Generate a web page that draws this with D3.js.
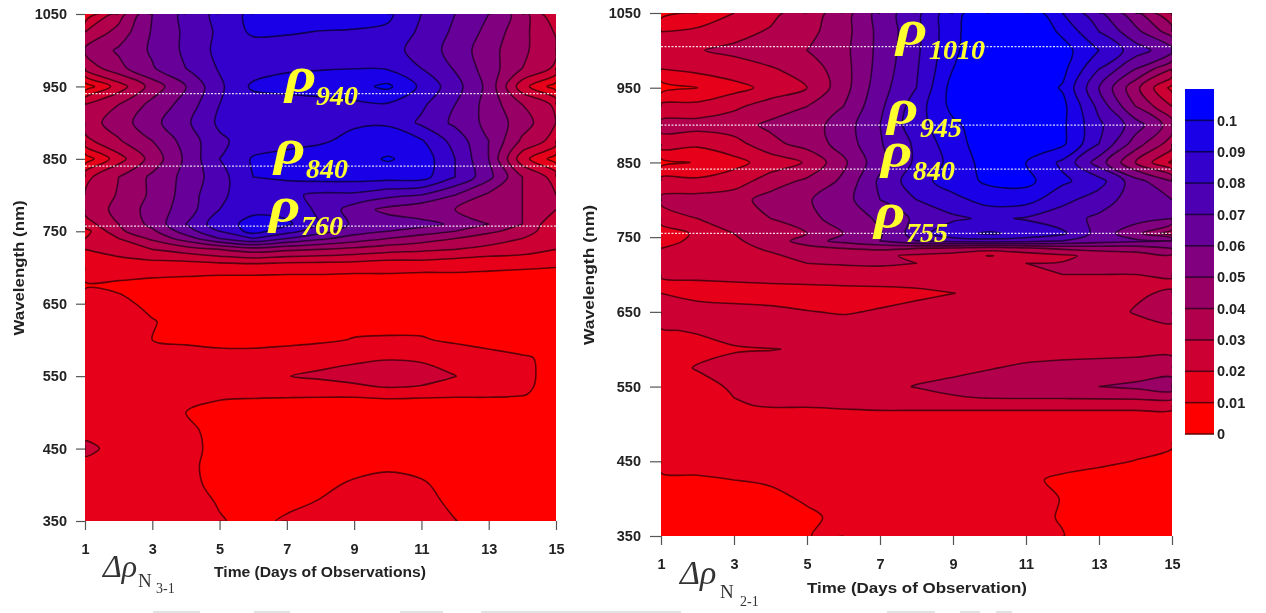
<!doctype html>
<html lang='en'>
<head>
    <meta charset='UTF-8'>
    <title>Contour charts</title>
    <style>
        body{ margin: 0; background: #fff; }
        svg{ display: block; filter: blur(0.6px); }
        .tick text, .lab{
            font-family: 'Liberation Sans', sans-serif;
            font-weight: bold;
            fill: #222;
        }
        .tick text{ font-size: 14.5px; }
        .lab{ font-size: 14.5px; }
        .axis path{ display: none; }
        .axis .tick line{ stroke: #555; stroke-width: 1.2px; }
        .iso{ fill: none; stroke: #000; stroke-opacity: 0.6; stroke-width: 1.6px; stroke-linejoin: round; }
        .ref{ stroke: #fff; stroke-width: 1.3px; stroke-dasharray: 2 1.5; opacity: 0.85; }
        .rho{ font-family: 'Liberation Serif', serif; font-style: italic; fill: #ffff2e; }
        .dl{ font-family: 'Liberation Serif', serif; fill: #333; }
    </style>
</head>
<body>
<script src='https://d3js.org/d3.v7.min.js'></script>
<script>
  // all grid values are in units of 0.01 reflectance difference
  const days = [1,2,3,4,5,6,7,8,9,10,11,12,13,14,15]
  const dayTicks = [1,3,5,7,9,11,13,15]
  const wlTicks = [350,450,550,650,750,850,950,1050]
  const levels = [0,1,2,3,4,5,6,7,8,9,10]
  const levelLabels = ['0','0.01','0.02','0.03','0.04','0.05','0.06','0.07','0.08','0.09','0.1']

  const wlLeft = [350,375,400,425,450,475,500,525,535,550,575,600,625,650,675,700,710,725,740,750,760,780,800,825,850,875,900,925,950,975,1000,1025,1050]
  const gridLeft = [
    [1.5,1.5,1.5,1.4,1.05,.8,1.1,1.2,1.3,1.4,1.4,1.02,.7,.6,.6],
    [1.5,1.5,1.45,1.3,.95,.75,.85,1.05,1.2,1.35,1.25,.85,.65,.55,.55],
    [1.5,1.5,1.4,1.1,.9,.7,.7,.85,1.1,1.25,1.1,.7,.6,.5,.5],
    [1.6,1.5,1.4,1.1,.85,.65,.65,.7,.8,.9,.8,.6,.5,.5,.5],
    [2.3,1.6,1.4,1.1,.9,.6,.6,.6,.6,.6,.6,.5,.5,.5,.5],
    [1.6,1.5,1.4,1.1,.85,.55,.55,.55,.55,.55,.55,.5,.5,.5,.5],
    [1.5,1.4,1.25,1.0,.7,.5,.5,.5,.5,.55,.55,.5,.5,.45,.4],
    [1.5,1.4,1.35,1.2,1.15,1.15,1.12,1.1,1.1,1.15,1.12,1.1,1.1,1.05,.7],
    [1.5,1.45,1.4,1.35,1.3,1.35,1.45,1.65,1.85,2.05,1.95,1.6,1.3,1.1,.8],
    [1.5,1.5,1.5,1.5,1.5,1.6,1.98,2.15,2.3,2.4,2.3,2.02,1.5,1.1,.85],
    [1.4,1.4,1.4,1.4,1.35,1.35,1.5,1.7,1.85,1.95,1.9,1.6,1.3,1.1,.8],
    [1.5,1.4,1.0,.85,.72,.7,.75,.85,1.05,1.1,1.08,.85,.7,.5,.4],
    [1.5,1.4,1.05,.7,.65,.6,.6,.6,.7,.7,.7,.6,.6,.5,.4],
    [1.5,1.2,.8,.7,.6,.6,.6,.6,.6,.6,.6,.6,.5,.5,.4],
    [.9,.85,.7,.65,.6,.6,.6,.6,.6,.6,.6,.6,.6,.6,.6],
    [1.4,1.4,1.4,1.35,1.3,1.3,1.25,1.25,1.2,1.2,1.15,1.15,1.1,1.05,1.0],
    [1.7,1.8,2,2.1,2.4,2.6,2.4,2.3,2.2,2,2,1.8,1.6,1.5,1.3],
    [2,2.4,3,3.5,4,4.5,4.2,4,3.7,3.4,3.2,3,2.7,2.5,2],
    [2,3,4.2,5.5,7,8,7,6.2,5.6,5,4.5,4,3.5,3,2.4],
    [1.6,3.8,4.8,6.5,8,9.4,8.4,7.4,6.4,6,5.5,5,4.2,3.6,2.2],
    [2.5,4,5.3,7,8.6,9.3,9.2,8,6.8,6.6,6.4,5.8,5,4,2.2],
    [3.3,4.3,5.4,6.5,8,8.8,8.6,7.8,6.5,5.7,5.2,5,4.6,4,3],
    [3.1,4.1,5.2,6.4,7.9,8.3,8.2,7.8,7.8,7.3,7,6,4.8,4,3],
    [2.7,4,5.2,6.3,7.6,9,9.2,9.4,9.4,9.4,9.4,8,6.3,4,2.6],
    [.4,2.6,4.4,6.2,8,9.1,9.3,9.4,9.6,10.1,9.6,8,6,2.4,.5],
    [2.7,3.9,5,6.4,7.8,8.5,8.7,8.9,9.2,9.4,9.1,7.6,6,3.8,2.6],
    [3.5,4.5,5.7,6.8,8.2,8.5,8.7,8.8,8.9,8.9,7.8,6.8,5.7,4.5,3],
    [3,4,5.3,6.4,8,8.4,8.6,8.7,8.8,8.9,8.2,7,5.6,4,2.8],
    [.4,2.5,4.4,6,7.8,9.2,9.3,9.4,9.7,10.2,8.8,7.4,5.7,2.4,.5],
    [3.3,4.7,5.9,7,8.1,8.5,8.9,8.95,8.98,8.9,8,6.9,5.5,4,2.8],
    [4.2,5.15,6.15,7.2,8.3,8.4,8.5,8.6,8.6,8.4,7.6,6.6,5.4,4.2,3.2],
    [3,4.4,6.1,7.2,8.2,9.2,9.1,8.95,8.9,8.8,7.8,6.8,5.7,4.3,2.9],
    [1.2,3.5,6,7.3,8.3,9.3,9.6,9.6,9.5,9.2,8,7,6,4.5,2]
  ]

  const wlRight = [350,375,400,425,450,475,500,525,535,550,575,600,625,650,675,685,700,715,725,735,745,755,775,800,825,850,875,900,925,950,975,1000,1025,1050]
  const gridRight = [
    [.5,.5,.55,.65,.97,1.2,1.4,1.4,1.4,1.4,1.2,1.03,.5,.4,.4],
    [.5,.5,.6,.7,.85,1.2,1.4,1.4,1.4,1.4,1.2,.95,.5,.4,.4],
    [.6,.6,.7,.8,1.1,1.3,1.4,1.4,1.4,1.4,1.3,.97,.6,.5,.4],
    [.85,.9,1,1.1,1.2,1.3,1.3,1.3,1.3,1.3,1.15,.85,.7,.6,.5],
    [1.25,1.3,1.35,1.4,1.4,1.4,1.4,1.4,1.4,1.4,1.4,1.3,1.15,.98,.8],
    [1.5,1.5,1.5,1.5,1.5,1.5,1.5,1.5,1.5,1.5,1.5,1.45,1.4,1.25,1.1],
    [1.6,1.6,1.6,1.6,1.6,1.6,1.6,1.6,1.6,1.6,1.6,1.6,1.6,1.6,1.6],
    [1.7,1.75,1.95,2.05,2.05,2.1,2.15,2.15,2.15,2.15,2.15,2.15,2.15,2.15,2.15],
    [1.7,1.75,2,2.2,2.25,2.3,2.4,2.6,2.9,3.05,3.1,3.1,3.15,3.2,3.3],
    [1.7,1.75,2.1,2.3,2.4,2.5,2.7,3.05,3.3,3.45,3.55,3.7,4,4.2,4.5],
    [1.7,2.05,2.2,2.3,2.4,2.4,2.5,2.6,2.7,2.95,3.15,3.3,3.35,3.4,3.5],
    [1.7,1.8,1.95,1.98,2.05,2.3,2.4,2.5,2.6,2.6,2.6,2.6,2.65,2.7,2.7],
    [1.95,2.05,2.2,2.4,2.5,2.6,2.6,2.6,2.6,2.6,2.6,2.6,2.65,2.7,2.75],
    [2.4,2.4,2.4,2.3,2.05,1.9,2.1,2.3,2.4,2.5,2.5,2.6,2.7,3.05,3.4],
    [2,1.7,1.5,1.4,1.4,1.45,1.6,1.8,1.99,2.15,2.4,2.5,2.6,2.9,3.1],
    [1.8,1.82,1.85,1.9,1.95,2,2.05,2.1,2.2,2.4,2.5,2.6,2.7,2.8,2.9],
    [2.1,2.2,2.3,2.4,2.4,2.5,2.7,2.9,2.95,2.95,2.95,3,3,3,3.05],
    [2.3,2.5,2.6,2.8,3,3.1,3.1,3,2.95,2.95,3,3.05,3.1,3.4,3.3],
    [2.2,2.5,2.7,2.9,3.2,3.3,3.2,2.8,2.5,1.95,2.4,2.8,3.3,3.5,3.8],
    [2,2.4,2.8,3.1,3.6,4,4.2,4,3.8,3.5,3.8,4.2,4.4,4.5,5],
    [1.4,2.4,2.9,3.3,4.6,5.3,6,7,7.4,7.6,7.4,7,6.5,6.2,6],
    [1.3,2.2,3,3.5,4,5,5.9,7.5,8.8,9.1,8.8,8.2,6.6,5.3,3.4],
    [2.5,3,3.4,4,4.8,5.3,6.2,7.2,7.8,8.2,7.9,7.4,6.8,6.4,6],
    [3.2,3.4,3.6,4.4,4.9,5.6,7,8,8.7,9.4,9.4,8.3,7.5,6.5,6],
    [2.4,2.2,2.5,3.5,4.2,5.2,7.2,8.6,9.5,10.2,10.3,9.2,8.4,6.4,5],
    [.6,1.1,1.7,2.4,3.1,4.8,6.7,8.2,9.3,10.5,10,8.8,6.5,4,1.8],
    [2.6,2.2,2.6,3.7,4.4,5.4,6.9,8.2,9.6,10.6,11,10.2,8,5.5,3.5],
    [3.3,3.4,3.6,4.2,4.5,5.5,7,8.6,9.8,10.6,11,10.2,8.2,6.5,4.5],
    [2.3,2.3,2.8,3.5,4,5,6.8,8.5,10.3,11,11,10.3,7.7,5,3],
    [.5,1,1.65,2.3,3,4.6,6.6,8,10.4,10.8,10.8,9.9,7,4.3,1.7],
    [2,2.3,2.6,2.9,3.4,4.6,6.4,7.9,10,10.9,11,10.3,8,6,4],
    [2.7,2.95,3.2,3.6,4,4.7,6.3,7.8,9.8,10.9,11,10.4,9,7.5,6.3],
    [2,2.2,2.7,3.1,3.7,4.6,6.3,7.7,9.8,10.7,11,9.8,8,6.3,4.5],
    [.6,1.3,2,2.75,3.5,4.5,6.4,7.7,9.75,10.6,10.9,9,7.2,5.3,2.9]
  ]

  const guidesLeft = [940,840,757]
  const guidesRight = [1005,900,841,755]

  const bandColor = k => {
    const t = Math.min(k / 10, 1)
    return `rgb(${Math.round(255 * (1 - t))},0,${Math.round(255 * t)})`
  }

  const curve = d3.line().curve(d3.curveCatmullRom)
  const curveClosed = d3.line().curve(d3.curveCatmullRomClosed)

  const svg = d3.select('body').append('svg')
    .attr('width', 1266)
    .attr('height', 613)

  function drawPanel(box, wls, grid, guides) {
    const xScale = d3.scaleLinear().domain([1, 15]).range([box.x0, box.x1])
    const yScale = d3.scaleLinear().domain([350, 1050]).range([box.y1, box.y0])
    const rowWl = d3.scaleLinear().domain(d3.range(wls.length)).range(wls)
    const nx = days.length
    const ny = wls.length

    // contour coords -> pixels (grid nodes sit at i+0.5, borders at 0 and n)
    const px = p => [
      xScale(days[0] + Math.max(0, Math.min(nx - 1, p[0] - 0.5))),
      yScale(rowWl(Math.max(0, Math.min(ny - 1, p[1] - 0.5))))
    ]

    const onEdge = (a, b) =>
      (a[0] === b[0] && (a[0] === 0 || a[0] === nx)) ||
      (a[1] === b[1] && (a[1] === 0 || a[1] === ny))

    // cut a ring into the runs between pieces that follow the plot border
    const ringRuns = ring => {
      const pts = ring.slice(0, -1)
      const n = pts.length
      const cut = pts.findIndex((p, i) => onEdge(p, pts[(i + 1) % n]))
      if (cut < 0) return null
      const runs = []
      let run = [pts[(cut + 1) % n]]
      for (let k = 1; k <= n; k++) {
        const a = pts[(cut + k) % n]
        const b = pts[(cut + k + 1) % n]
        if (onEdge(a, b)) {
          runs.push(run)
          run = [b]
        } else {
          run.push(b)
        }
      }
      return runs
    }

    const fillPath = c => {
      let d = ''
      c.coordinates.forEach(poly => poly.forEach(ring => {
        const runs = ringRuns(ring)
        if (!runs) {
          d += curveClosed(ring.slice(0, -1).map(px))
          return
        }
        runs.forEach((run, i) => {
          const s = run.length > 1 ? curve(run.map(px)) : 'M' + px(run[0]).join(',')
          d += i === 0 ? s : s.replace(/^M/, 'L')
        })
        d += 'Z'
      }))
      return d
    }

    const isoPath = c => {
      let d = ''
      c.coordinates.forEach(poly => poly.forEach(ring => {
        const runs = ringRuns(ring)
        if (!runs) {
          d += curveClosed(ring.slice(0, -1).map(px))
          return
        }
        runs.filter(r => r.length > 1).forEach(r => { d += curve(r.map(px)) })
      }))
      return d
    }

    const contours = d3.contours()
      .size([nx, ny])
      .smooth(true)
      .thresholds(levels)(grid.flat())

    const clipId = 'clip' + box.x0
    svg.append('clipPath').attr('id', clipId)
      .append('rect')
      .attr('x', box.x0).attr('y', box.y0)
      .attr('width', box.x1 - box.x0).attr('height', box.y1 - box.y0)

    const g = svg.append('g')
    const plot = g.append('g').attr('clip-path', `url(#${clipId})`)

    plot.append('rect')
      .attr('x', box.x0).attr('y', box.y0)
      .attr('width', box.x1 - box.x0).attr('height', box.y1 - box.y0)
      .attr('fill', bandColor(0))

    plot.selectAll('path.band')
      .data(contours)
      .join('path')
      .attr('class', 'band')
      .attr('d', fillPath)
      .attr('fill-rule', 'evenodd')
      .attr('fill', d => bandColor(d.value))

    plot.selectAll('path.iso')
      .data(contours.filter(c => c.value > 0))
      .join('path')
      .attr('class', 'iso')
      .attr('d', isoPath)

    plot.selectAll('line.ref')
      .data(guides)
      .join('line')
      .attr('class', 'ref')
      .attr('x1', box.x0).attr('x2', box.x1)
      .attr('y1', d => yScale(d)).attr('y2', d => yScale(d))

    const xAxis = d3.axisBottom(xScale)
      .tickValues(dayTicks)
      .tickFormat(d3.format('d'))
      .tickSizeInner(9)
      .tickSizeOuter(0)
      .tickPadding(box.xPad)

    const yAxis = d3.axisLeft(yScale)
      .tickValues(wlTicks)
      .tickFormat(d3.format('d'))
      .tickSizeInner(box.yTick)
      .tickSizeOuter(0)
      .tickPadding(9)

    g.append('g')
      .attr('class', 'x axis')
      .attr('transform', `translate(0, ${box.y1})`)
      .call(xAxis)

    g.append('g')
      .attr('class', 'y axis')
      .attr('transform', `translate(${box.x0}, 0)`)
      .call(yAxis)

    g.append('text')
      .attr('class', 'lab')
      .attr('transform', `translate(${box.yLabX}, ${box.yLabY}) rotate(-90)`)
      .attr('text-anchor', 'middle')
      .attr('textLength', box.yLabLen)
      .attr('lengthAdjust', 'spacingAndGlyphs')
      .text('Wavelength (nm)')

    g.append('text')
      .attr('class', 'lab')
      .attr('x', box.xLabX).attr('y', box.xLabY)
      .attr('text-anchor', 'middle')
      .attr('textLength', box.xLabLen)
      .attr('lengthAdjust', 'spacingAndGlyphs')
      .text(box.xLabel)
  }

  function rhoLabel(x, y, sub, subX, subY) {
    svg.append('text').attr('class', 'rho')
      .attr('transform', `translate(${x}, ${y}) scale(1.22, 1.02)`)
      .attr('font-size', 50).attr('font-weight', 'bold')
      .text('ρ')
    svg.append('text').attr('class', 'rho')
      .attr('x', subX).attr('y', subY)
      .attr('font-size', 28)
      .attr('font-weight', 'bold')
      .text(sub)
  }

  function deltaLabel(x, y, n, sub, nx, subx, ny, suby, big) {
    svg.append('text').attr('class', 'dl').attr('x', x).attr('y', y)
      .attr('font-size', big).attr('font-style', 'italic').text('Δρ')
    svg.append('text').attr('class', 'dl').attr('x', nx).attr('y', ny)
      .attr('font-size', 19).text(n)
    svg.append('text').attr('class', 'dl').attr('x', subx).attr('y', suby)
      .attr('font-size', 14).text(sub)
  }

  drawPanel({x0: 85, x1: 556, y0: 14, y1: 521, xPad: 14, yTick: 9, yLabX: 24, yLabY: 268, yLabLen: 135,
             xLabX: 320, xLabY: 577, xLabLen: 212, xLabel: 'Time (Days of Observations)'}, wlLeft, gridLeft, guidesLeft)
  drawPanel({x0: 661, x1: 1172, y0: 13, y1: 536, xPad: 14, yTick: 11, yLabX: 594, yLabY: 275, yLabLen: 140,
             xLabX: 917, xLabY: 593, xLabLen: 220, xLabel: 'Time (Days of Observation)'}, wlRight, gridRight, guidesRight)

  rhoLabel(285, 92, '940', 316, 105)
  rhoLabel(274, 164, '840', 306, 178)
  rhoLabel(269, 222, '760', 301, 235)
  rhoLabel(896, 45, '1010', 929, 59)
  rhoLabel(887, 124, '945', 920, 137)
  rhoLabel(881, 167, '840', 913, 180)
  rhoLabel(874, 228, '755', 906, 242)

  deltaLabel(103, 577, 'N', '3-1', 138, 156, 587, 593, 32)
  deltaLabel(680, 584, 'N', '2-1', 720, 740, 598, 606, 34)

  // colour bar
  const barScale = d3.scaleLinear().domain([0, 11]).range([434, 89])
  svg.append('g').selectAll('rect')
    .data(levels)
    .join('rect')
    .attr('x', 1185).attr('width', 29)
    .attr('y', d => barScale(d + 1))
    .attr('height', d => barScale(d) - barScale(d + 1) + 0.5)
    .attr('fill', d => bandColor(d))

  const barAxis = d3.axisRight(barScale)
    .tickValues(levels)
    .tickFormat(d => levelLabels[d])
    .tickSizeInner(0)
    .tickPadding(3)
    .tickSizeOuter(0)

  svg.append('g')
    .attr('class', 'axis bar')
    .attr('transform', 'translate(1214, 0)')
    .call(barAxis)

  svg.append('g').selectAll('line')
    .data(levels)
    .join('line')
    .attr('x1', 1185).attr('x2', 1214)
    .attr('y1', d => barScale(d)).attr('y2', d => barScale(d))
    .attr('stroke', '#000').attr('stroke-opacity', 0.6).attr('stroke-width', 1.6)

  // remains of cropped text along the bottom edge of the source image
  const cropScraps = [[153,47],[254,36],[400,43],[481,200],[887,48],[960,20],[996,16]]
  svg.append('g').selectAll('rect')
    .data(cropScraps)
    .join('rect')
    .attr('x', d => d[0]).attr('y', 611)
    .attr('width', d => d[1]).attr('height', 2)
    .attr('fill', '#e2e2e2')
</script>
</body>
</html>
